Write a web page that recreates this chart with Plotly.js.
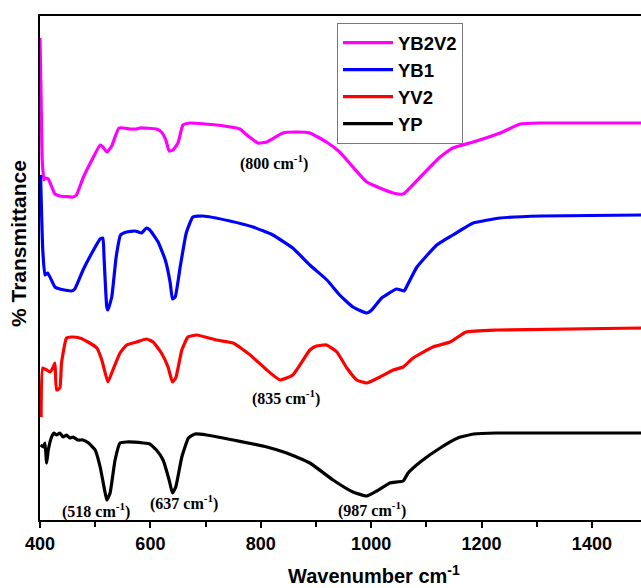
<!DOCTYPE html>
<html><head><meta charset="utf-8">
<script src="https://cdn.plot.ly/plotly-3.0.1.min.js"></script>
<style>html,body{margin:0;padding:0;background:#fff}#c{width:641px;height:588px}</style>
</head><body><div id="c"></div>
<script>
// Wavenumber (cm^-1) and offset transmittance (a.u.)
const wnYB2V2 = [400,402,404,407,409,415,427,436,460,466,478,494,509,514,521,530,543,563,575,581,611,620,628,634,641,650,659,672,720,762,777,795,811,840,867,889,919,943,967,992,1016,1040,1058,1089,1125,1148,1185,1234,1270,1306,1489];
const tYB2V2  = [482,420,360,340,342,341,326,324,323,325,342,360,375,373,368,374,392,391,391,392,391,388,380,369,370,377,395,397,395,391,384,377,378,387,388,387,378,368,353,338,332,327,326,343,363,372,378,387,396,397,397];

const wnYB1 = [401,405,409,414,427,436,457,463,478,494,509,514,516,521,523,530,538,546,557,572,584,593,599,614,627,636,640,645,654,665,677,695,744,786,822,858,889,920,943,967,992,1001,1019,1046,1060,1064,1083,1119,1148,1185,1234,1308,1489];
const tYB1  = [345,270,245,247,233,231,229,231,250,267,281,282,263,213,210,223,263,285,288,289,287,292,290,278,260,237,221,223,253,287,303,304,299,293,285,272,255,240,225,213,207,210,222,231,229,233,253,275,285,297,302,304,305];

const wnYV2 = [402,405,412,418,424,427,430,436,439,448,457,472,487,503,512,523,532,545,557,575,593,605,620,632,640,646,657,668,684,720,750,781,811,835,858,889,901,919,938,956,974,992,1016,1040,1058,1076,1112,1143,1172,1228,1489];
const tYV2  = [103,152,150,148,153,157,130,132,157,182,183,182,178,172,160,138,150,167,175,178,181,178,167,153,138,142,170,183,185,180,177,165,150,140,145,170,174,175,168,152,140,137,143,150,153,162,173,178,188,190,192];

const wnYP = [401,406,409,412,415,421,425,430,436,442,448,454,460,469,478,488,500,509,516,521,527,536,545,557,587,599,611,623,634,640,646,657,669,681,702,750,811,847,889,931,967,992,1010,1034,1058,1067,1089,1125,1157,1186,1228,1489];
const tYP  = [75,73,77,57,70,83,87,85,87,83,85,82,83,80,80,77,70,53,33,20,27,60,77,78,77,76,70,60,40,27,33,63,82,86,85,80,73,67,57,40,28,24,29,37,39,47,58,72,82,86,87,87];

const peakLabels = ["(518 cm<sup>-1</sup>)","(637 cm<sup>-1</sup>)","(987 cm<sup>-1</sup>)","(835 cm<sup>-1</sup>)","(800 cm<sup>-1</sup>)"];
const peakX = [501, 661, 1002, 846, 824];
const peakY = [10, 18, 11, 123, 358];

const mk = (x,y,name,color)=>({x:x,y:y,name:name,type:'scatter',mode:'lines',
  line:{color:color,width:3.2,shape:'spline',smoothing:0.4},hoverinfo:'skip'});
const data = [
  mk(wnYB2V2,tYB2V2,'YB2V2','#FF00FF'),
  mk(wnYB1,tYB1,'YB1','#0000FF'),
  mk(wnYV2,tYV2,'YV2','#FF0000'),
  mk(wnYP,tYP,'YP','#000000')
];

const ann = peakLabels.map((t,i)=>({x:peakX[i],y:peakY[i],xref:'x',yref:'y',text:t,showarrow:false,
  font:{family:'Liberation Serif, Times New Roman, serif',size:16,color:'#000',weight:'bold'}}));
ann.push({xref:'paper',yref:'paper',x:(374-40)/601,y:-(574-520)/504,text:'Wavenumber cm<sup>-1</sup>',showarrow:false,
  font:{family:'Liberation Sans, Arial, sans-serif',size:20,color:'#000',weight:'bold'},yanchor:'middle'});
ann.push({xref:'paper',yref:'paper',x:-(40-19)/601,y:(520-244)/504,text:'% Transmittance',textangle:-90,showarrow:false,
  font:{family:'Liberation Sans, Arial, sans-serif',size:21,color:'#000',weight:'bold'},xanchor:'center',yanchor:'middle'});

const layout = {
  width:641,height:588,
  margin:{l:40,r:0,t:16,b:68},
  paper_bgcolor:'#fff',plot_bgcolor:'#fff',
  showlegend:true,
  legend:{x:(337-40)/601,y:(520-23)/504,xanchor:'left',yanchor:'top',
    bgcolor:'#fff',bordercolor:'#777',borderwidth:1,itemwidth:50,
    font:{family:'Liberation Sans, Arial, sans-serif',size:18.5,color:'#000',weight:'bold'},
    tracegroupgap:0},
  xaxis:{range:[400,1489],tickmode:'linear',tick0:400,dtick:200,
    ticks:'outside',ticklen:6,tickwidth:2,tickcolor:'#000',
    minor:{tickmode:'linear',tick0:400,dtick:100,ticks:'outside',ticklen:5,tickwidth:2,tickcolor:'#000'},
    showline:true,linecolor:'#000',linewidth:2,mirror:true,showgrid:false,zeroline:false,
    tickfont:{family:'Liberation Sans, Arial, sans-serif',size:18,color:'#000',weight:'bold'}},
  yaxis:{range:[0,504],showticklabels:false,ticks:'',showline:true,linecolor:'#000',linewidth:2,
    showgrid:false,zeroline:false},
  annotations:ann
};
Plotly.newPlot('c',data,layout,{staticPlot:true,displayModeBar:false});
</script></body></html>
